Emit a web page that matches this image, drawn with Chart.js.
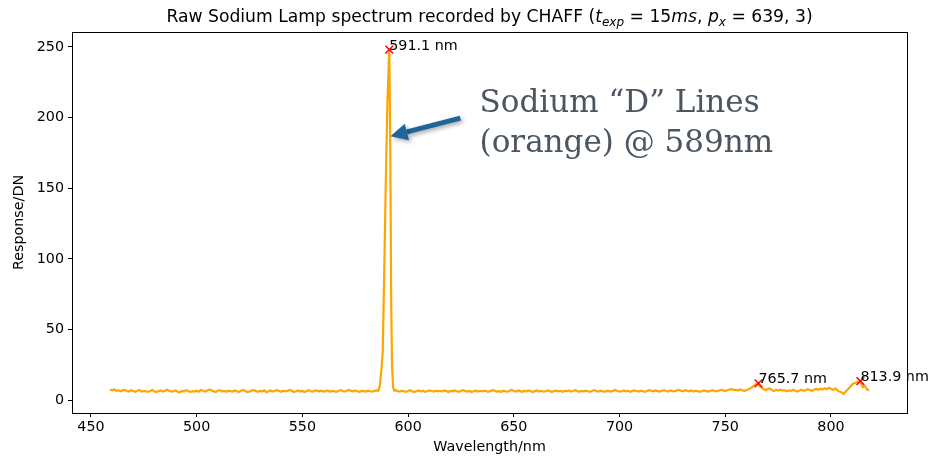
<!DOCTYPE html>
<html><head><meta charset="utf-8">
<script src="https://cdn.jsdelivr.net/npm/chart.js@4.4.1/dist/chart.umd.min.js"></script>
<style>html,body{margin:0;padding:0;background:#fff;}#wrap{width:931px;height:459px;}</style>
</head><body><div id="wrap"><canvas id="c" width="931" height="459"></canvas></div>
<script>
// ---- data ----
const wavelength = [
 459,460,461,462,463,464,465,466,467,468,469,470,471,472,473,474,475,476,477,478,
 479,480,481,482,483,484,485,486,487,488,489,490,491,492,493,494,495,496,497,498,
 499,500,501,502,503,504,505,506,507,508,509,510,511,512,513,514,515,516,517,518,
 519,520,521,522,523,524,525,526,527,528,529,530,531,532,533,534,535,536,537,538,
 539,540,541,542,543,544,545,546,547,548,549,550,551,552,553,554,555,556,557,558,
 559,560,561,562,563,564,565,566,567,568,569,570,571,572,573,574,575,576,577,578,
 579,580,581,582,583,584,585,
 586,586.6,587.4,588.0,588.7,589.4,590.2,591.1,591.6,592.0,592.4,592.9,593.5,
 594,
 595,596,597,598,599,600,601,602,603,604,605,606,607,608,609,610,611,612,613,614,
 615,616,617,618,619,620,621,622,623,624,625,626,627,628,629,630,631,632,633,634,
 635,636,637,638,639,640,641,642,643,644,645,646,647,648,649,650,651,652,653,654,
 655,656,657,658,659,660,661,662,663,664,665,666,667,668,669,670,671,672,673,674,
 675,676,677,678,679,680,681,682,683,684,685,686,687,688,689,690,691,692,693,694,
 695,696,697,698,699,700,701,702,703,704,705,706,707,708,709,710,711,712,713,714,
 715,716,717,718,719,720,721,722,723,724,725,726,727,728,729,730,731,732,733,734,
 735,736,737,738,739,740,741,742,743,744,745,746,747,748,749,750,751,752,753,754,
 755,756,757,758,759,760,761,762,763,764,765,765.7,
 766,767,768,769,770,771,772,773,774,775,
 776,777,778,779,780,781,782,783,784,785,786,787,788,789,790,791,792,793,794,795,
 796,797,798,799,800,801,802,803,804,805,806,807,808,809,810,
 811,812,813,813.9,814.5,815,816,817,818
];
const response = [
 7.6,7.1,7.8,6.7,7.2,6.3,7.0,7.4,6.6,6.2,7.1,6.5,6.0,6.8,7.3,6.1,6.7,6.4,5.9,6.6,
 7.2,6.3,5.8,6.5,7.0,6.2,6.7,7.4,6.8,6.1,6.4,6.9,6.0,5.7,6.6,6.3,7.1,6.5,5.9,6.4,
 6.2,6.8,6.0,7.3,6.7,6.1,6.9,7.6,7.0,6.4,5.8,6.7,7.2,6.3,6.6,6.0,6.8,6.5,6.2,7.0,
 6.4,5.9,6.7,7.3,6.6,5.8,6.2,6.8,7.1,6.5,6.0,6.6,6.3,7.0,5.7,6.4,6.9,6.1,6.7,7.2,
 6.5,6.0,6.8,6.3,6.6,7.3,6.7,5.9,6.4,7.0,6.2,6.6,5.8,6.5,7.1,6.4,6.1,6.9,6.6,6.3,
 6.8,6.2,6.5,7.0,6.0,6.7,6.4,5.9,6.6,7.2,6.5,6.1,6.8,7.3,6.6,6.3,6.9,6.4,6.0,6.7,
 6.5,6.2,6.8,6.4,6.1,6.6,7.0,
 6.9,10,22,34,90,150,210,248,175,70,25,9,6.8,
 7.2,
 6.5,6.1,6.8,6.4,5.9,6.6,7.1,6.3,5.8,6.5,6.9,6.2,6.7,6.0,6.4,7.0,6.6,6.1,6.8,6.3,
 6.7,6.2,6.9,6.5,5.9,6.6,6.3,7.0,6.4,6.0,6.7,7.2,6.5,6.1,6.6,5.8,6.4,6.9,6.2,6.7,
 6.3,6.8,6.4,6.0,6.6,7.1,6.7,6.2,6.5,5.9,6.8,6.4,6.1,6.7,7.3,6.6,6.2,6.9,6.5,6.0,
 6.6,6.3,7.0,6.4,5.8,6.5,6.9,6.2,6.7,6.1,6.4,7.0,6.6,5.9,6.5,6.8,6.3,6.7,6.0,6.6,
 6.4,6.9,6.2,6.6,7.1,6.5,6.0,6.7,6.3,6.8,6.4,5.9,6.6,7.2,6.5,6.1,6.8,6.4,6.0,6.7,
 6.5,6.2,6.8,7.3,6.6,6.1,6.4,6.9,6.3,6.7,6.0,6.5,7.0,6.6,6.2,6.8,6.4,5.9,6.6,7.1,
 6.7,6.3,6.9,6.5,6.1,6.8,7.2,6.6,6.2,7.0,6.5,6.3,6.9,7.4,6.8,6.4,7.1,6.7,6.3,7.0,
 6.2,6.8,6.4,6.0,6.6,7.0,6.5,6.1,6.7,7.2,6.6,6.3,6.9,7.4,7.0,6.5,7.1,7.6,7.9,7.3,
 7.4,6.9,7.6,7.1,6.6,7.3,7.8,8.6,9.7,10.8,11.6,12.0,
 10.4,9.2,8.0,7.1,7.9,8.4,7.3,6.6,7.4,6.8,
 7.5,6.8,7.2,6.4,7.0,6.6,7.3,6.9,6.2,6.8,7.4,6.7,7.1,7.8,7.2,6.6,7.5,8.0,7.4,8.2,
 7.6,8.5,7.8,8.9,8.1,7.3,8.4,7.0,6.2,5.6,4.5,6.3,7.8,9.4,11.2,
 12.1,12.6,13.2,13.5,11.0,9.2,10.1,7.8,6.9
];
const peakWavelength = [591.1, 765.7, 813.9];
const peakResponse = [248, 12.0, 13.5];
const peakLabels = ['591.1 nm', '765.7 nm', '813.9 nm'];
const xTickValues = [450, 500, 550, 600, 650, 700, 750, 800];
const yTickValues = [0, 50, 100, 150, 200, 250];
const noteLines = ['Sodium \u201CD\u201D Lines', '(orange) @ 589nm'];
const noteAt = {x: 633.8, y: [204, 175.7]};
const arrowTail = {x: 624.7, y: 199.6};
const arrowTip = {x: 591.65, y: 186.8};
const titleParts = [
  {t: 'Raw Sodium Lamp spectrum recorded by CHAFF (', s: 'n'},
  {t: 't', s: 'i'}, {t: 'exp', s: 'sub'},
  {t: ' = 15', s: 'n'}, {t: 'ms', s: 'i'}, {t: ', ', s: 'n'},
  {t: 'p', s: 'i'}, {t: 'x', s: 'sub'},
  {t: ' = 639, 3)', s: 'n'}
];

const lineData = wavelength.map((w, i) => ({x: w, y: response[i]}));
const peakData = peakWavelength.map((w, i) => ({x: w, y: peakResponse[i]}));

const FONT = 'DejaVu Sans';
const FS = 14.3;

const overlay = {
  id: 'overlay',
  beforeDatasetsDraw(chart) {
    const {ctx, chartArea: a} = chart;
    ctx.save();
    ctx.strokeStyle = '#000';
    ctx.lineWidth = 1;
    ctx.strokeRect(Math.round(a.left) + 0.5, Math.round(a.top) + 0.5,
      Math.round(a.right) - Math.round(a.left), Math.round(a.bottom) - Math.round(a.top));
    ctx.restore();
  },
  afterDraw(chart) {
    const {ctx, chartArea: a, scales: {x, y}} = chart;
    ctx.save();
    // peak labels
    ctx.fillStyle = '#000';
    ctx.font = FS + 'px "' + FONT + '"';
    ctx.textAlign = 'left';
    ctx.textBaseline = 'alphabetic';
    peakWavelength.forEach((w, i) => {
      ctx.fillText(peakLabels[i], x.getPixelForValue(w), y.getPixelForValue(peakResponse[i]));
    });
    // title
    const fonts = {n: '17.2px "' + FONT + '"', i: 'italic 17.2px "' + FONT + '"', sub: 'italic 12px "' + FONT + '"'};
    let total = 0;
    titleParts.forEach(p => { ctx.font = fonts[p.s]; total += ctx.measureText(p.t).width; });
    let tx = (a.left + a.right) / 2 - total / 2;
    const base = 22;
    titleParts.forEach(p => {
      ctx.font = fonts[p.s];
      ctx.fillText(p.t, tx, p.s === 'sub' ? base + 4 : base);
      tx += ctx.measureText(p.t).width;
    });
    // arrow
    const x0 = x.getPixelForValue(arrowTail.x), y0 = y.getPixelForValue(arrowTail.y);
    const x1 = x.getPixelForValue(arrowTip.x), y1 = y.getPixelForValue(arrowTip.y);
    const ang = Math.atan2(y1 - y0, x1 - x0);
    const headL = 17, headW = 8.5;
    const bx = x1 - headL * Math.cos(ang), by = y1 - headL * Math.sin(ang);
    ctx.shadowColor = 'rgba(0,0,0,0.35)';
    ctx.shadowBlur = 4;
    ctx.shadowOffsetX = 2;
    ctx.shadowOffsetY = 2;
    ctx.strokeStyle = '#1c669a';
    ctx.fillStyle = '#1c669a';
    ctx.lineWidth = 5;
    ctx.beginPath();
    ctx.moveTo(x0, y0);
    ctx.lineTo(bx, by);
    ctx.stroke();
    ctx.beginPath();
    ctx.moveTo(x1, y1);
    ctx.lineTo(bx + headW * Math.sin(ang), by - headW * Math.cos(ang));
    ctx.lineTo(bx - headW * Math.sin(ang), by + headW * Math.cos(ang));
    ctx.closePath();
    ctx.fill();
    ctx.shadowColor = 'transparent';
    // note
    ctx.fillStyle = '#4c5661';
    ctx.font = '31px "DejaVu Serif"';
    noteLines.forEach((s, i) => {
      ctx.fillText(s, x.getPixelForValue(noteAt.x), y.getPixelForValue(noteAt.y[i]));
    });
    ctx.restore();
  }
};

new Chart(document.getElementById('c'), {
  type: 'line',
  data: {
    datasets: [
      {data: peakData, showLine: false, pointStyle: 'crossRot', pointRadius: 5.5,
       pointBorderColor: '#ff0000', pointBackgroundColor: '#ff0000', pointBorderWidth: 1.5, order: 0},
      {data: lineData, borderColor: '#ffa500', borderWidth: 2.2, pointRadius: 0, tension: 0,
       fill: false, order: 1}
    ]
  },
  options: {
    responsive: false,
    animation: false,
    devicePixelRatio: 1,
    layout: {padding: {top: 32, right: 24, left: 0, bottom: 0}},
    plugins: {legend: {display: false}, tooltip: {enabled: false}, title: {display: false}},
    scales: {
      x: {
        type: 'linear', min: 441.05, max: 835.95,
        afterBuildTicks: s => { s.ticks = xTickValues.map(v => ({value: v})); },
        afterFit: s => { s.height = 46; },
        ticks: {font: {family: FONT, size: FS}, color: '#000', padding: 2, maxRotation: 0, autoSkip: false},
        grid: {display: true, drawOnChartArea: false, drawTicks: true, tickLength: 4, color: '#000'},
        border: {display: false},
        title: {display: true, text: 'Wavelength/nm', font: {family: FONT, size: FS}, color: '#000', padding: {top: 0, bottom: 3}}
      },
      y: {
        type: 'linear', min: -9, max: 260.5,
        afterBuildTicks: s => { s.ticks = yTickValues.map(v => ({value: v})); },
        afterFit: s => { s.width = 72; },
        ticks: {font: {family: FONT, size: FS}, color: '#000', padding: 4},
        grid: {display: true, drawOnChartArea: false, drawTicks: true, tickLength: 4, color: '#000'},
        border: {display: false},
        title: {display: true, text: 'Response/DN', font: {family: FONT, size: FS}, color: '#000', padding: {top: 11, bottom: 0}}
      }
    }
  },
  plugins: [overlay]
});
</script>
</body></html>
